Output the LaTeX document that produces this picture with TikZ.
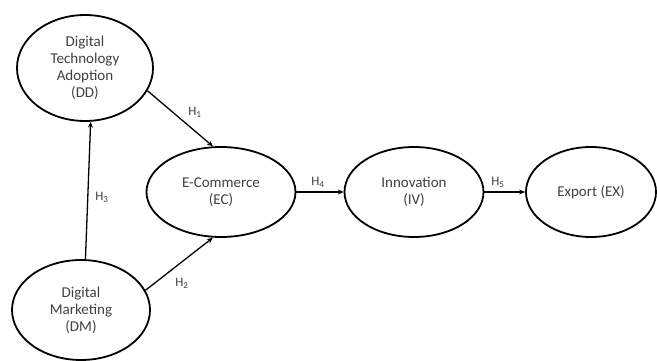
\documentclass[tikz,border=0pt]{standalone}
\usepackage{fontspec}
\setsansfont{Carlito}
\usepackage{tikz}
\usepackage{xcolor}
\usetikzlibrary{
  positioning, arrows.meta, shapes.geometric, calc,
}
\definecolor{cText}{HTML}{404040}
\tikzset{
  construct/.style={ellipse, draw=black, line width=1.8pt, inner sep=0pt,
    align=center, text=cText, font=\sffamily\fontsize{15}{17}\selectfont},
  hyppath/.style={draw=black, line width=1.3pt, -{Stealth[length=6pt,width=5pt]}},
  hyplabel/.style={text=cText, font=\sffamily\fontsize{13}{15}\selectfont},
}

\begin{document}
\begin{tikzpicture}[x=1pt, y=-1pt]
        \useasboundingbox (0,0) rectangle (657,361);
        % constructs
        \node[construct, minimum width=136pt, minimum height=106pt] (dd) at (85, 68)
             {Digital\\Technology\\Adoption\\(DD)};
        \node[construct, minimum width=138pt, minimum height=100pt] (dm) at (81, 310)
             {Digital\\Marketing\\(DM)};
        \node[construct, minimum width=149pt, minimum height=90pt] (ec) at (221, 192)
             {E-Commerce\\(EC)};
        \node[construct, minimum width=139pt, minimum height=90pt] (iv) at (414, 192)
             {Innovation\\(IV)};
        \node[construct, minimum width=130pt, minimum height=90pt] (ex) at (591, 192)
             {Export (EX)};

        % hypotheses
        \draw[hyppath] (dd.-20) -- (ec.100);
        \draw[hyppath] (dm.17) -- (ec.-100);
        \draw[hyppath] (dm.85) -- (dd.-84);
        \draw[hyppath] (ec.east) -- (iv.west);
        \draw[hyppath] (iv.east) -- (ex.west);

        \node[hyplabel] (h1) at (195, 112) {H\textsubscript{1}};
        \node[hyplabel] (h2) at (182, 283) {H\textsubscript{2}};
        \node[hyplabel] (h3) at (102, 197) {H\textsubscript{3}};
        \node[hyplabel] (h4) at (318, 182) {H\textsubscript{4}};
        \node[hyplabel] (h5) at (498, 182) {H\textsubscript{5}};
      \end{tikzpicture}
\end{document}
